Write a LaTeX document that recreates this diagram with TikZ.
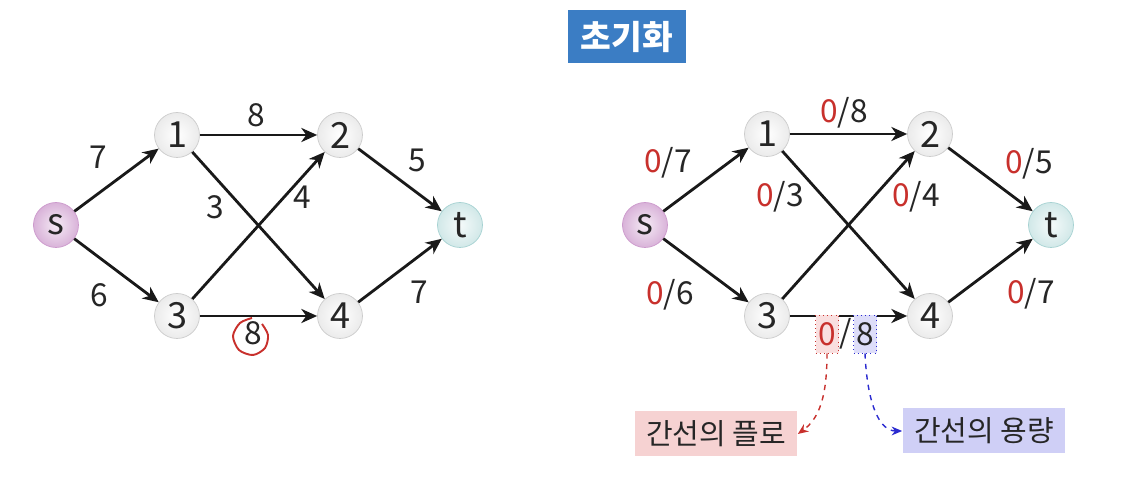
\documentclass[tikz,border=0pt]{standalone}
\usepackage{fontspec}
\setmainfont{Noto Sans CJK KR}
\usepackage{xcolor}
\usetikzlibrary{arrows.meta}
\definecolor{flowred}{HTML}{C8302C}
\definecolor{capblue}{HTML}{2A2AD0}
\definecolor{titleblue}{HTML}{3B7DC4}
\definecolor{flowpink}{HTML}{F6D2D2}
\definecolor{caplilac}{HTML}{CFCFF6}

\begin{document}
\begin{tikzpicture}[x=0.02cm, y=-0.02cm,
	vert/.style={circle, draw=gray!40, inner color=white, outer color=gray!16, minimum size=0.9cm, inner sep=0pt, text=black!85, font=\fontsize{20.5}{21}\selectfont},
	srcvert/.style={vert, draw=violet!40, inner color=violet!8, outer color=violet!30},
	sinkvert/.style={vert, draw=teal!35, inner color=teal!4, outer color=teal!18},
	flowarr/.style={-{Stealth[length=9pt,width=8pt,inset=2.8pt]}, line width=1.6pt, black!90},
	caplab/.style={inner sep=0pt, text=black!85, font=\fontsize{18}{19}\selectfont},
	tagbox/.style={minimum width=3.26cm, minimum height=0.9cm, inner sep=0pt, text=black!85, font=\fontsize{16.5}{17}\selectfont}]
	\useasboundingbox (0,0) rectangle (1130,502);
	% titel
	\node [fill=titleblue, text=white, minimum width=2.36cm, minimum height=1.06cm, font=\fontsize{19}{20}\selectfont\bfseries] (title) at (627,37) {초기화};
	% linker graph
	\node [srcvert] (ls) at (56,225) {s};
	\node [vert] (l1) at (177,135) {1};
	\node [vert] (l2) at (340,135) {2};
	\node [vert] (l3) at (177,316) {3};
	\node [vert] (l4) at (340,316) {4};
	\node [sinkvert] (lt) at (460,225) {t};
	\draw [flowarr] (ls) -- (l1);
	\draw [flowarr] (ls) -- (l3);
	\draw [flowarr] (l1) -- (l2);
	\draw [flowarr] (l1) -- (l4);
	\draw [flowarr] (l3) -- (l2);
	\draw [flowarr] (l3) -- (l4);
	\draw [flowarr] (l2) -- (lt);
	\draw [flowarr] (l4) -- (lt);
	\node [caplab] (ls1) at (98,157) {7};
	\node [caplab] (ls3) at (99,295) {6};
	\node [caplab] (l12) at (256,115) {8};
	\node [caplab] (l14) at (215,207) {3};
	\node [caplab] (l32) at (302,197) {4};
	\node [caplab] (l34) at (253,333) {8};
	\node [caplab] (l2t) at (417,160) {5};
	\node [caplab] (l4t) at (419,292) {7};
	\draw [flowred, line width=1.1pt] plot [smooth] coordinates {(252,318) (240,323) (233,336) (239,350) (253,355) (265,348) (268,335) (262,324)};
	% rechter graph
	\node [srcvert] (rs) at (645,225) {s};
	\node [vert] (r1) at (767,134) {1};
	\node [vert] (r2) at (930,134) {2};
	\node [vert] (r3) at (767,316) {3};
	\node [vert] (r4) at (930,316) {4};
	\node [sinkvert] (rt) at (1051,225) {t};
	\draw [flowarr] (rs) -- (r1);
	\draw [flowarr] (rs) -- (r3);
	\draw [flowarr] (r1) -- (r2);
	\draw [flowarr] (r1) -- (r4);
	\draw [flowarr] (r3) -- (r2);
	\draw [flowarr] (r3) -- (r4);
	\draw [flowarr] (r2) -- (rt);
	\draw [flowarr] (r4) -- (rt);
	\node [caplab] (rs1) at (668,163) {\textcolor{flowred}{0}/7};
	\node [caplab] (rs3) at (670,295) {\textcolor{flowred}{0}/6};
	\node [caplab] (r12) at (844,113) {\textcolor{flowred}{0}/8};
	\node [caplab] (r14) at (780,197) {\textcolor{flowred}{0}/3};
	\node [caplab] (r32) at (916,197) {\textcolor{flowred}{0}/4};
	\node [caplab] (r2t) at (1029,164) {\textcolor{flowred}{0}/5};
	\node [caplab] (r4t) at (1031,294) {\textcolor{flowred}{0}/7};
	% 0/8 mit erklaerung
	\node [caplab, draw=flowred, dotted, fill=flowpink!70, minimum width=0.46cm, minimum height=0.76cm, text=flowred] (r34f) at (827,334) {0};
	\node [caplab, draw=capblue, dotted, fill=caplilac!70, minimum width=0.46cm, minimum height=0.76cm] (r34c) at (865,334) {8};
	\node [caplab] (r34s) at (846,334) {/};
	\node [tagbox, fill=flowpink] (flowtag) at (716,434) {간선의 플로};
	\node [tagbox, fill=caplilac] (captag) at (984,431) {간선의 용량};
	\draw [flowred, dashed, line width=0.8pt, -{Stealth[length=6pt,width=5pt]}] (r34f.south) .. controls (827,395) and (820,418) .. (flowtag.east);
	\draw [capblue, dashed, line width=0.8pt, -{Stealth[length=6pt,width=5pt]}] (r34c.south) .. controls (867,400) and (878,431) .. (captag.west);
\end{tikzpicture}
\end{document}
